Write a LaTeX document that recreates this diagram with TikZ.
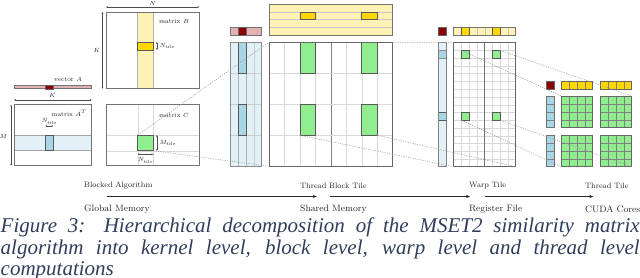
\documentclass[tikz,border=0pt]{standalone}
\usepackage{fontspec}
\newfontfamily\capfont{Liberation Serif}
\usetikzlibrary{arrows.meta}
\definecolor{lpink}{RGB}{228,178,180}
\definecolor{dred}{RGB}{139,0,0}
\definecolor{lyel}{RGB}{255,242,180}
\definecolor{gold}{RGB}{255,215,0}
\definecolor{lblue}{RGB}{226,241,247}
\definecolor{tblue}{RGB}{168,214,228}
\definecolor{lgreen}{RGB}{144,238,144}
\definecolor{capcol}{RGB}{48,62,92}
\definecolor{arrcol}{RGB}{40,40,40}
\newcommand{\mkrect}[6]{\node[rect,#6,minimum width=#4pt,minimum height=#5pt] (#1) at (#2,#3) {};}
\begin{document}
\begin{tikzpicture}[x=1pt,y=-1pt,
  rect/.style={rectangle,anchor=north west,inner sep=0pt,outer sep=0pt},
  bline/.style={draw=black!55,line width=0.8pt},
  gridl/.style={draw=black!15,line width=0.4pt},
  midl/.style={draw=black!50,line width=0.6pt},
  tile/.style={draw=black!65,line width=0.6pt},
  cellsep/.style={draw=black!50,line width=0.5pt},
  dimar/.style={draw=black!70,line width=0.3pt,{Stealth[length=1.8pt,width=1.6pt]}-{Stealth[length=1.8pt,width=1.6pt]}},
  lbl/.style={font=\fontsize{6.5}{7}\selectfont,inner sep=0.5pt,text=black!85},
  toplbl/.style={font=\fontsize{7.8}{9}\selectfont,inner sep=0pt,anchor=west,text=black!85},
  botlbl/.style={font=\fontsize{9.3}{10}\selectfont,inner sep=0pt,anchor=west,text=black!85},
  levelarrow/.style={draw=arrcol,line width=1.4pt,-{Stealth[length=4pt,width=3.2pt]}},
  zoomline/.style={draw=black!40,line width=0.5pt,dash pattern=on 1.2pt off 1.2pt},
  caplin/.style={font=\capfont\itshape\fontsize{21}{21.5}\selectfont,text=capcol,inner sep=0pt,anchor=base west}
]
\useasboundingbox (0,0) rectangle (640,278);

% ---------------- levels ----------------
\node[toplbl] (l1) at (84,186) {Blocked Algorithm};
\node[botlbl] (m1) at (84,209) {Global Memory};
\node[toplbl] (l2) at (300,186) {Thread Block Tile};
\node[botlbl] (m2) at (300,209) {Shared Memory};
\node[toplbl] (l3) at (469,186) {Warp Tile};
\node[botlbl] (m3) at (469,209) {Register File};
\node[toplbl] (l4) at (585,186) {Thread Tile};
\node[botlbl] (m4) at (585,209) {CUDA Cores};
\draw[levelarrow] ([xshift=22.7pt,yshift=-10.5pt]l1.west) -- ([xshift=16.7pt,yshift=-10.5pt]l2.west);
\draw[levelarrow] ([xshift=30pt,yshift=-10.5pt]l2.west) -- ([xshift=1pt,yshift=-10.5pt]l3.west);
\draw[levelarrow] ([xshift=16pt,yshift=-10.5pt]l3.west) -- ([xshift=8.3pt,yshift=-10.5pt]l4.west);

% ---------------- kernel level ----------------
\mkrect{vA}{14}{85.5}{77.7}{3.3}{fill=lpink,draw=black!55,line width=0.6pt}
\mkrect{vAt}{45.3}{85.5}{8}{3.3}{fill=dred,draw=black!60,line width=0.4pt}
\node[lbl] (vAl) at (68,79.5) {vector $A$};
\draw[dimar] ([yshift=-11pt]vA.south west) -- ([yshift=-11pt]vA.south east);
\node[lbl] (kA) at (52.5,95.5) {$K$};

\mkrect{AT}{14}{104.7}{77.7}{61}{fill=white}
\mkrect{ATrow}{14}{135}{77.7}{15.7}{fill=lblue,draw=black!35,line width=0.5pt}
\mkrect{ATt}{45.3}{135}{8}{15.7}{fill=tblue,tile}
\draw[bline] (AT.north west) rectangle (AT.south east);
\node[lbl] (ATl) at (69,113.5) {matrix $A^T$};
\draw[dimar] ([xshift=-3pt]AT.north west) -- ([xshift=-3pt]AT.south west);
\node[lbl] (mA) at (3.5,136) {$M$};
\draw[dimar] ([yshift=9pt]ATt.north west) -- ([yshift=9pt]ATt.north east);
\node[lbl] (ntA) at (49.3,121.5) {$N_{\mathrm{tile}}$};

\mkrect{B}{106}{12}{93.3}{76.7}{fill=white}
\mkrect{Bcol}{137.7}{12}{15.6}{76.7}{fill=lyel,draw=black!30,line width=0.5pt}
\mkrect{Bt}{137.7}{42}{15.6}{8}{fill=gold,tile}
\draw[bline] (B.north west) rectangle (B.south east);
\node[lbl] (Bl) at (174,21) {matrix $B$};
\draw[dimar] ([yshift=5pt]B.north west) -- ([yshift=5pt]B.north east);
\node[lbl] (nB) at (152.6,3.5) {$N$};
\draw[dimar] ([xshift=-3.5pt]B.north west) -- ([xshift=-3.5pt]B.south west);
\node[lbl] (kB) at (97,50) {$K$};
\draw[dimar] ([xshift=3.5pt]Bt.north east) -- ([xshift=3.5pt]Bt.south east);
\node[lbl,anchor=west] (ntB) at (159,46) {$N_{\mathrm{tile}}$};

\mkrect{C}{106}{104.7}{93.3}{61}{fill=white}
\draw[gridl] (137.7,104.7) -- (137.7,165.7);
\draw[gridl] (153.3,104.7) -- (153.3,165.7);
\draw[gridl] (106,135) -- (199.3,135);
\draw[gridl] (106,150.7) -- (199.3,150.7);
\mkrect{Ct}{137.7}{135}{15.6}{15.7}{fill=lgreen,tile}
\draw[bline] (C.north west) rectangle (C.south east);
\node[lbl] (Cl) at (174,115) {matrix $C$};
\draw[dimar] ([xshift=3.5pt]Ct.north east) -- ([xshift=3.5pt]Ct.south east);
\node[lbl,anchor=west] (mtC) at (159,143) {$M_{\mathrm{tile}}$};
\draw[dimar] ([yshift=-3.5pt]Ct.south west) -- ([yshift=-3.5pt]Ct.south east);
\node[lbl] (ntC) at (145.5,160.5) {$N_{\mathrm{tile}}$};

% ---------------- thread block tile ----------------
\mkrect{pA}{230.7}{27.3}{31}{7.7}{fill=lpink,draw=black!55,line width=0.7pt}
\mkrect{pAt}{238.45}{27.3}{7.75}{7.7}{fill=dred,draw=black!60,line width=0.5pt}

\mkrect{bA}{230.7}{42.3}{31}{124}{fill=lblue}
\draw[gridl,draw=black!20] (253.95,42.3) -- (253.95,166.3);
\foreach \yy in {73.3,104.3,135.3} \draw[gridl,draw=black!20] (230.7,\yy) -- (261.7,\yy);
\draw[gridl,draw=black!30] (238.45,42.3) -- (238.45,166.3);
\draw[gridl,draw=black!30] (246.2,42.3) -- (246.2,166.3);
\mkrect{bAt1}{238.45}{42.3}{7.75}{31}{fill=tblue,tile}
\mkrect{bAt2}{238.45}{104.3}{7.75}{31}{fill=tblue,tile}
\draw[bline,draw=black!45] (bA.north west) rectangle (bA.south east);

\mkrect{bB}{269}{4.3}{123.7}{30.7}{fill=lyel}
\foreach \yy in {11.975,19.65,27.325} \draw[gridl,draw=black!22] (269,\yy) -- (392.7,\yy);
\mkrect{bBt1}{299.925}{11.975}{15.4625}{7.675}{fill=gold,tile}
\mkrect{bBt2}{361.775}{11.975}{15.4625}{7.675}{fill=gold,tile}
\draw[bline] (bB.north west) rectangle (bB.south east);

\mkrect{blk}{269}{42.3}{123.7}{124}{fill=white}
\foreach \i in {1,2,3,5,6,7} \draw[gridl] ({269+15.4625*\i},42.3) -- ({269+15.4625*\i},166.3);
\draw[midl] (330.85,42.3) -- (330.85,166.3);
\foreach \yy in {73.3,104.3,135.3} \draw[gridl] (269,\yy) -- (392.7,\yy);
\mkrect{bt00}{299.925}{42.3}{15.4625}{31}{fill=lgreen,tile}
\mkrect{bt01}{361.775}{42.3}{15.4625}{31}{fill=lgreen,tile}
\mkrect{bt10}{299.925}{104.3}{15.4625}{31}{fill=lgreen,tile}
\mkrect{bt11}{361.775}{104.3}{15.4625}{31}{fill=lgreen,tile}
\draw[bline,draw=black!60] (blk.north west) rectangle (blk.south east);

% ---------------- warp tile ----------------
\mkrect{wA0}{438.7}{27.55}{7.75}{7.75}{fill=dred,draw=black!60,line width=0.5pt}
\mkrect{wB}{453.7}{27.55}{62}{7.75}{fill=lyel}
\foreach \i in {1,...,7} \draw[gridl,draw=black!22] ({453.7+7.75*\i},27.55) -- ({453.7+7.75*\i},35.3);
\mkrect{wBt1}{461.45}{27.55}{7.75}{7.75}{fill=gold,tile}
\mkrect{wBt2}{492.45}{27.55}{7.75}{7.75}{fill=gold,tile}
\draw[bline] (wB.north west) rectangle (wB.south east);

\mkrect{wA}{438.7}{42.7}{7.75}{124}{fill=lblue}
\mkrect{wAt1}{438.7}{50.45}{7.75}{7.75}{fill=tblue,draw=black!45,line width=0.5pt}
\mkrect{wAt2}{438.7}{112.45}{7.75}{7.75}{fill=tblue,tile}
\draw[bline,draw=black!50] (wA.north west) rectangle (wA.south east);

\mkrect{warp}{453.7}{42.7}{62}{124}{fill=white}
\foreach \i in {1,2,3,5,6,7} \draw[gridl] ({453.7+7.75*\i},42.7) -- ({453.7+7.75*\i},166.7);
\foreach \j in {1,...,15} \draw[gridl] (453.7,{42.7+7.75*\j}) -- (515.7,{42.7+7.75*\j});
\draw[midl,line width=0.8pt,draw=black!55] (484.7,42.7) -- (484.7,166.7);
\mkrect{wt11}{461.45}{50.45}{7.75}{7.75}{fill=lgreen,tile}
\mkrect{wt51}{492.45}{50.45}{7.75}{7.75}{fill=lgreen,tile}
\mkrect{wt19}{461.45}{112.45}{7.75}{7.75}{fill=lgreen,tile}
\mkrect{wt59}{492.45}{112.45}{7.75}{7.75}{fill=lgreen,tile}
\draw[bline,draw=black!60] (warp.north west) rectangle (warp.south east);

% ---------------- thread tile ----------------
\mkrect{tA0}{546.3}{81.3}{7.7}{7.7}{fill=dred,draw=black!60,line width=0.5pt}
\mkrect{tB1}{561}{81.3}{31.7}{7.7}{fill=gold}
\mkrect{tB2}{600}{81.3}{31.7}{7.7}{fill=gold}
\foreach \x in {561,600} {
  \foreach \i in {1,2,3} \draw[cellsep] ({\x+7.925*\i},81.3) -- ({\x+7.925*\i},89);
  \draw[bline,draw=black!60] (\x,81.3) rectangle ({\x+31.7},89);
}
\mkrect{tA1}{546.3}{96}{7.7}{31.7}{fill=tblue}
\mkrect{tA2}{546.3}{135}{7.7}{31.7}{fill=tblue}
\foreach \yy in {96,135} {
  \foreach \i in {1,2,3} \draw[cellsep] (546.3,{\yy+7.925*\i}) -- (554,{\yy+7.925*\i});
  \draw[bline,draw=black!55] (546.3,\yy) rectangle (554,{\yy+31.7});
}
\mkrect{g11}{561}{96}{31.7}{31.7}{fill=lgreen}
\mkrect{g21}{600}{96}{31.7}{31.7}{fill=lgreen}
\mkrect{g12}{561}{135}{31.7}{31.7}{fill=lgreen}
\mkrect{g22}{600}{135}{31.7}{31.7}{fill=lgreen}
\foreach \x in {561,600} \foreach \yy in {96,135} {
  \foreach \i in {1,2,3} {
    \draw[cellsep] ({\x+7.925*\i},\yy) -- ({\x+7.925*\i},{\yy+31.7});
    \draw[cellsep] (\x,{\yy+7.925*\i}) -- ({\x+31.7},{\yy+7.925*\i});
  }
  \draw[bline,draw=black!60] (\x,\yy) rectangle ({\x+31.7},{\yy+31.7});
}

% ---------------- zoom lines ----------------
\draw[zoomline] (Ct.north west) -- (blk.north west);
\draw[zoomline] (Ct.south east) -- (blk.south west);
\draw[zoomline] (blk.north east) -- (warp.north west);
\draw[zoomline] (bt10.south west) -- (warp.south west);
\draw[zoomline] (bt11.south east) -- (warp.south east);
\draw[zoomline] (wt11.north west) -- (g11.north west);
\draw[zoomline] (wt51.north east) -- (g21.north east);
\draw[zoomline] (wt19.south west) -- (g12.south west);
\draw[zoomline] (wt59.south east) -- (g22.south east);

% ---------------- caption ----------------
\node[caplin] (cap1) at (0.5,232.5) {\makebox[639pt][s]{Figure 3: Hierarchical decomposition of the MSET2 similarity matrix}};
\node[caplin] (cap2) at (0.5,254) {\makebox[639pt][s]{algorithm into kernel level, block level, warp level and thread level}};
\node[caplin] (cap3) at (0.5,275.5) {computations};
\end{tikzpicture}
\end{document}
